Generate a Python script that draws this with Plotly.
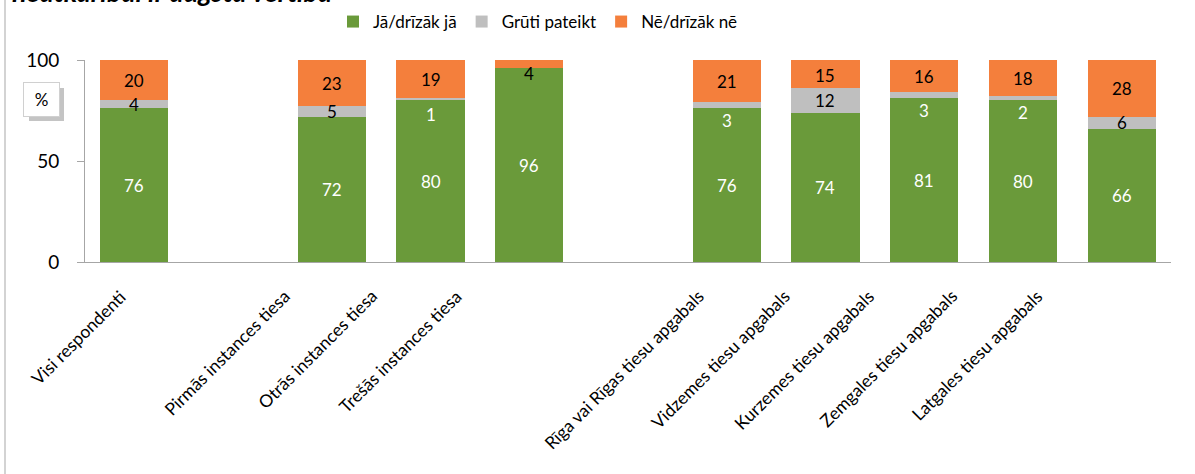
import plotly.graph_objects as go

categories = ["Visi respondenti", " ", "Pirmās instances tiesa", "Otrās instances tiesa",
              "Trešās instances tiesa", "  ", "Rīga vai Rīgas tiesu apgabals",
              "Vidzemes tiesu apgabals", "Kurzemes tiesu apgabals",
              "Zemgales tiesu apgabals", "Latgales tiesu apgabals"]
yes_vals = [76, None, 72, 80, 96, None, 76, 74, 81, 80, 66]
hard_vals = [4, None, 5, 1, 0, None, 3, 12, 3, 2, 6]
no_vals = [20, None, 23, 19, 4, None, 21, 15, 16, 18, 28]
series_names = ["Jā/drīzāk jā", "Grūti pateikt", "Nē/drīzāk nē"]
title_text = "neatkarībai ir augsta vērtība"

# label styling (colour / pixel shift) per bar for the grey and orange series
hard_label_colors = ["black", None, "black", "white", "black", None, "white", "black", "white", "white", "black"]
hard_label_shift = [0, 0, 0, -15, 0, 0, -15, 0, -15, -14, 0]
no_label_shift = [0, 0, 0, 0, -9, 0, 0, 0, 0, 0, 0]
# horizontal offset (px) of each rotated category label's end from its bar centre
cat_label_shift = [-2, 0, -35, -47, -61, 0, -16, -29, -43, -59, -73]

colors = ["#6A9A3A", "#BFBFBF", "#F47F3C"]
FONT = "Lato, 'Liberation Sans', sans-serif"

# plot area in pixels
W, H = 1195, 474
L, R, T, B = 85, 24, 60, 212
PW, PH = W - L - R, H - T - B


def px2paper_x(px):
    return (px - L) / PW


def px2paper_y(py):
    return (H - B - py) / PH


fig = go.Figure()
for name, vals, col in zip(series_names, [yes_vals, hard_vals, no_vals], colors):
    fig.add_trace(go.Bar(x=categories, y=vals, name=name, marker=dict(color=col, line=dict(width=0)),
                         width=0.69, hoverinfo="x+y+name"))

annotations = []
for i, cat in enumerate(categories):
    if yes_vals[i] is None:
        continue
    g, h, n = yes_vals[i], hard_vals[i], no_vals[i]
    annotations.append(dict(x=cat, y=g / 2, text=str(g), showarrow=False,
                            font=dict(color="white", size=17, family=FONT)))
    if h:
        annotations.append(dict(x=cat, y=g + h / 2, text=str(h), showarrow=False,
                                yshift=hard_label_shift[i],
                                font=dict(color=hard_label_colors[i], size=17, family=FONT)))
    if n:
        annotations.append(dict(x=cat, y=min(g + h + n / 2, 100 - n / 2), text=str(n), showarrow=False,
                                yshift=no_label_shift[i],
                                font=dict(color="black", size=17, family=FONT)))
    # rotated category label
    annotations.append(dict(x=cat, xref="x", yref="paper", y=px2paper_y(283), text=cat.strip(),
                            showarrow=False, textangle=-45, xanchor="right", yanchor="top",
                            xshift=cat_label_shift[i], font=dict(size=17.5, color="black", family=FONT)))

# "%" unit box
annotations.append(dict(xref="paper", yref="paper", x=px2paper_x(41.5), y=px2paper_y(99.5),
                        text="%", showarrow=False, font=dict(size=17, color="black", family=FONT),
                        width=33, height=31, bgcolor="white", bordercolor="#D0D0D0", borderwidth=1,
                        xanchor="center", yanchor="middle"))
# title (cut off at top of image)
annotations.append(dict(xref="paper", yref="paper", x=px2paper_x(10), y=px2paper_y(-8),
                        text="<b><i>" + title_text + "</i></b>", showarrow=False,
                        xanchor="left", yanchor="middle",
                        font=dict(size=27, color="black", family=FONT)))

shapes = [
    # shadow of the % box
    dict(type="rect", xref="paper", yref="paper", x0=px2paper_x(29), x1=px2paper_x(64),
         y0=px2paper_y(121), y1=px2paper_y(88), fillcolor="#C4C4C4", line=dict(width=0), layer="below"),
    # left border line of the picture
    dict(type="line", xref="paper", yref="paper", x0=px2paper_x(5), x1=px2paper_x(5),
         y0=px2paper_y(0), y1=px2paper_y(474), line=dict(color="#D3D3D3", width=2)),
]

fig.update_layout(
    width=W, height=H,
    margin=dict(l=L, r=R, t=T, b=B, autoexpand=False),
    barmode="stack",
    bargap=0.31,
    plot_bgcolor="white", paper_bgcolor="white",
    font=dict(family=FONT, color="black"),
    showlegend=True,
    legend=dict(orientation="h", x=px2paper_x(333), y=px2paper_y(4), xanchor="left", yanchor="top",
                font=dict(size=17, family=FONT), traceorder="normal", bgcolor="rgba(0,0,0,0)"),
    annotations=annotations,
    shapes=shapes,
    xaxis=dict(type="category", categoryorder="array", categoryarray=categories,
               range=[-0.5, len(categories) - 0.5], autorange=False,
               showticklabels=False, showline=True,
               linecolor="#A6A6A6", linewidth=1, ticks="", showgrid=False, zeroline=False,
               automargin=False),
    yaxis=dict(range=[0, 100], autorange=False, tickvals=[0, 50, 100], tickfont=dict(size=19, family=FONT),
               showline=True, linecolor="#A6A6A6", linewidth=1, ticks="outside", ticklen=7,
               tickcolor="#A6A6A6", showgrid=False, zeroline=False, automargin=False,
               ticklabelstandoff=14),
)

fig.write_html("out.html", post_script="document.body.style.margin='0';",
               config={"displayModeBar": False})
